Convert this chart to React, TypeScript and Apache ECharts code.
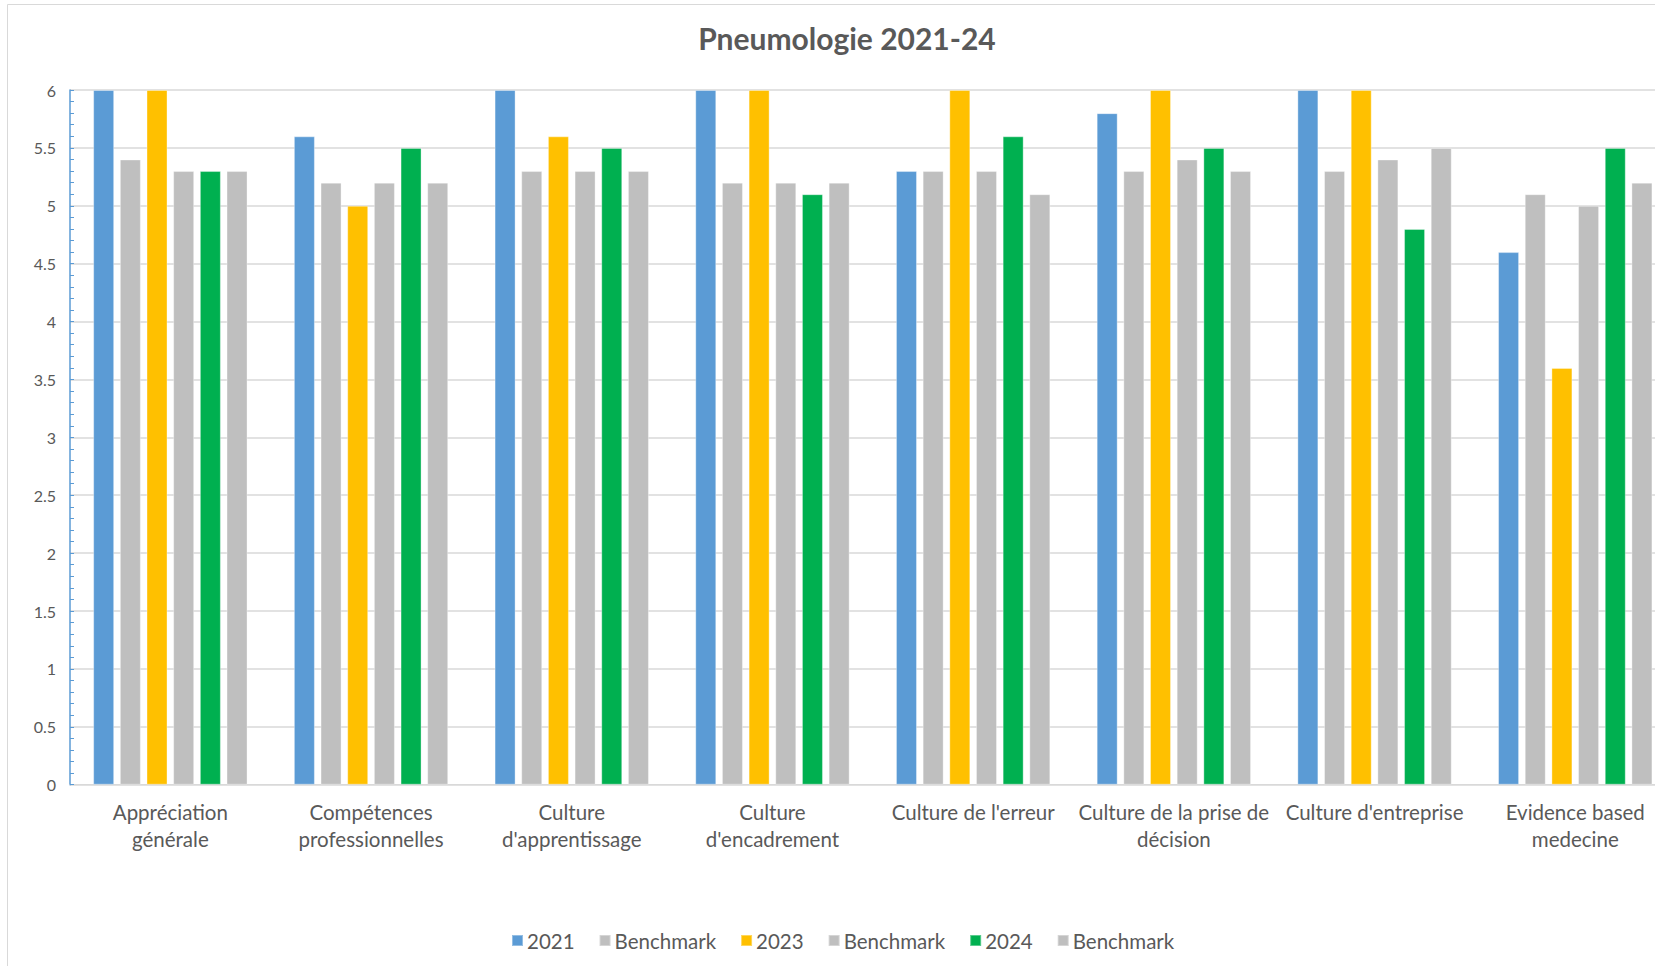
import React, { useEffect, useRef } from "react";
import * as echarts from "echarts";

const categories = [
  "Appréciation générale",
  "Compétences professionnelles",
  "Culture d'apprentissage",
  "Culture d'encadrement",
  "Culture de l'erreur",
  "Culture de la prise de décision",
  "Culture d'entreprise",
  "Evidence based medecine",
];
const categoryLabels = [
  "Appréciation\ngénérale",
  "Compétences\nprofessionnelles",
  "Culture\nd'apprentissage",
  "Culture\nd'encadrement",
  "Culture de l'erreur",
  "Culture de la prise de\ndécision",
  "Culture d'entreprise",
  "Evidence based\nmedecine",
];

const values2021 = [6, 5.6, 6, 6, 5.3, 5.8, 6, 4.6];
const bench2021 = [5.4, 5.2, 5.3, 5.2, 5.3, 5.3, 5.3, 5.1];
const values2023 = [6, 5.0, 5.6, 6, 6, 6, 6, 3.6];
const bench2023 = [5.3, 5.2, 5.3, 5.2, 5.3, 5.4, 5.4, 5.0];
const values2024 = [5.3, 5.5, 5.5, 5.1, 5.6, 5.5, 4.8, 5.5];
const bench2024 = [5.3, 5.2, 5.3, 5.2, 5.1, 5.3, 5.5, 5.2];

const seriesNames = ["2021", "Benchmark 2021", "2023", "Benchmark 2023", "2024", "Benchmark 2024"];
const seriesData = [values2021, bench2021, values2023, bench2023, values2024, bench2024];
const seriesColors = ["#5B9BD5", "#BFBFBF", "#FFC000", "#BFBFBF", "#00B050", "#BFBFBF"];

const yTicks = { min: 0, max: 6, interval: 0.5 };

const FONT = "Lato, 'Noto Sans', sans-serif";
const TEXT = "#595959";
const CHART_W = 1700;

export default function App() {
  const ref = useRef<HTMLDivElement>(null);
  useEffect(() => {
    if (!ref.current) return;
    const chart = echarts.init(ref.current, undefined, { renderer: "svg" });
    chart.setOption({
      animation: false,
      backgroundColor: "#FFFFFF",
      textStyle: { fontFamily: FONT },
      title: {
        text: "Pneumologie 2021-24",
        left: 842,
        top: 18,
        textAlign: "center",
        textStyle: { fontFamily: FONT, fontSize: 30, fontWeight: "bold", color: TEXT },
      },
      graphic: [
        {
          type: "rect",
          shape: { x: 7.5, y: 4.5, width: 1750, height: 1000 },
          style: { fill: "none", stroke: "#D9D9D9", lineWidth: 1 },
          silent: true,
        },
      ],
      legend: {
        data: seriesNames,
        left: 506,
        top: 925,
        icon: "rect",
        itemWidth: 11,
        itemHeight: 11,
        itemGap: 24,
        formatter: (name: string) => (name.startsWith("Benchmark") ? "Benchmark" : name),
        textStyle: { fontFamily: FONT, fontSize: 20.5, color: TEXT, padding: [0, 0, 0, -1] },
      },
      grid: { left: 70, top: 90, width: 1605.6, height: 694.7, containLabel: false },
      xAxis: {
        type: "category",
        data: categories,
        axisLine: { lineStyle: { color: "#D9D9D9", width: 1 } },
        axisTick: { show: false },
        axisLabel: {
          interval: 0,
          margin: 14,
          fontFamily: FONT,
          fontSize: 20.5,
          lineHeight: 27,
          color: TEXT,
          formatter: (_v: string, i: number) => categoryLabels[i],
        },
      },
      yAxis: {
        type: "value",
        min: yTicks.min,
        max: yTicks.max,
        interval: yTicks.interval,
        axisLine: { show: true, lineStyle: { color: "#5B9BD5", width: 1.5 } },
        axisTick: { show: true, inside: true, length: 4, lineStyle: { color: "#5B9BD5" } },
        minorTick: { show: true, splitNumber: 5, length: 4, lineStyle: { color: "#5B9BD5" } },
        splitLine: { show: true, lineStyle: { color: "#D9D9D9", width: 1.5 } },
        axisLabel: { margin: 14, fontFamily: FONT, fontSize: 16, color: TEXT },
      },
      series: seriesNames.map((name, i) => ({
        name,
        type: "bar",
        data: seriesData[i],
        barWidth: 21,
        barGap: "27%",
        itemStyle: { color: seriesColors[i], borderColor: "rgba(255,255,255,0.35)", borderWidth: 1 },
      })),
    });
    return () => chart.dispose();
  }, []);
  return (
    <div
      style={{
        position: "absolute",
        left: 0,
        top: 0,
        width: 1655,
        height: 966,
        overflow: "hidden",
        background: "#fff",
      }}
    >
      <div ref={ref} style={{ width: CHART_W, height: 966 }} />
    </div>
  );
}
